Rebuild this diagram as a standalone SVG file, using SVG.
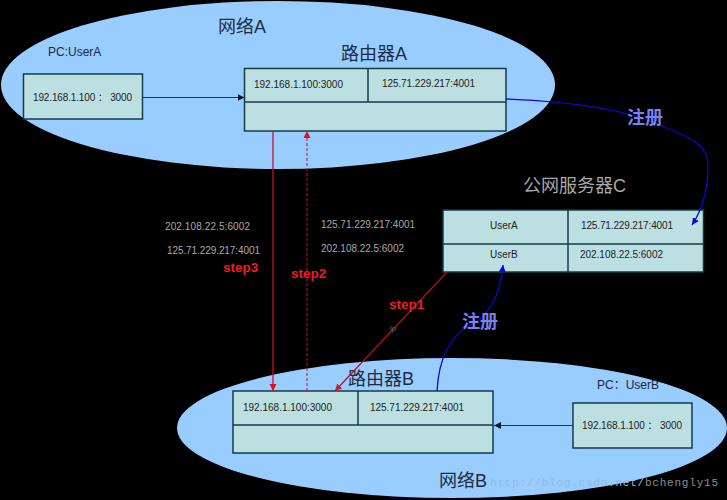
<svg xmlns="http://www.w3.org/2000/svg" width="727" height="500" viewBox="0 0 727 500">
<style>
text{font-family:"Liberation Sans","Noto Sans CJK SC",sans-serif;fill:#1a2a3a}
.cell{fill:#bce0e2;stroke:#123c4a;stroke-width:1.5}
.l{stroke:#123c4a;stroke-width:1.5;fill:none}
.net{fill:#99ccff}
.t{font-size:10px;fill:#222}
.h{font-size:18px;fill:#1c2c44}
.g{font-size:10px;fill:#a8a8a8}
.s{font-size:13.5px;font-weight:bold;fill:#f01c24}
.reg{font-size:18px;font-weight:bold;fill:#7c80f0}
</style>
<defs>
<marker id="ak" markerWidth="8" markerHeight="8" refX="7" refY="3.5" orient="auto" markerUnits="userSpaceOnUse"><path d="M0 0L7 3.5L0 7z" fill="#0a1a30"/></marker>
<marker id="ar" markerWidth="8" markerHeight="8" refX="7" refY="3.5" orient="auto" markerUnits="userSpaceOnUse"><path d="M0 0L7 3.5L0 7z" fill="#e01020"/></marker>
<marker id="ab" markerWidth="8" markerHeight="8" refX="7" refY="3.5" orient="auto" markerUnits="userSpaceOnUse"><path d="M0 0L7 3.5L0 7z" fill="#0808d0"/></marker>
</defs>
<rect width="727" height="500" fill="#000"/>
<g id="netA"><ellipse class="net" cx="278" cy="85" rx="277" ry="84"/><text class="h" x="218" y="33">网络A</text></g>
<g id="netB"><ellipse class="net" cx="452" cy="428" rx="275" ry="70"/><text class="h" x="439" y="487">网络B</text></g>
<g id="pcA"><text x="48" y="56" font-size="12">PC:UserA</text><rect class="cell" x="23.500" y="74" width="119" height="45"/><text class="t" x="33" y="101" textLength="99">192.168.1.100 ： 3000</text></g>
<g id="routerA"><text class="h" x="341" y="60">路由器A</text><rect class="cell" x="244.500" y="68.500" width="261.500" height="62.500"/><path class="l" d="M244.500 102H506M368 68.500V102"/><text class="t" x="254" y="88">192.168.1.100:3000</text><text class="t" x="382" y="87" textLength="93">125.71.229.217:4001</text></g>
<g id="serverC"><text x="523" y="192" font-size="18" style="fill:#a8a8a8">公网服务器C</text><rect class="cell" x="443" y="210" width="260.500" height="62"/><path class="l" d="M443 244H703.500M568 210V272"/><text class="t" x="490" y="229">UserA</text><text class="t" x="490" y="258">UserB</text><text class="t" x="581" y="229" textLength="92">125.71.229.217:4001</text><text class="t" x="580" y="258" textLength="83">202.108.22.5:6002</text></g>
<g id="routerB"><text class="h" x="348" y="385">路由器B</text><rect class="cell" x="233" y="391" width="260" height="62"/><path class="l" d="M233 425H493M358 391V425"/><text class="t" x="243" y="411">192.168.1.100:3000</text><text class="t" x="370" y="411" textLength="94">125.71.229.217:4001</text></g>
<g id="pcB"><text x="597" y="389" font-size="12">PC：UserB</text><rect class="cell" x="573" y="403" width="119" height="45"/><text class="t" x="582" y="429" textLength="100">192.168.1.100 ： 3000</text></g>
<g id="connectors">
<path class="l" style="stroke-width:1.200" marker-end="url(#ak)" d="M142.500 97.500H244.500"/>
<path class="l" style="stroke-width:1.200" marker-end="url(#ak)" d="M573 425.500H494"/>
<path d="M273 131V391" stroke="#c81028" stroke-width="1.300" fill="none" marker-end="url(#ar)"/>
<path d="M307 391V131" stroke="#c81028" stroke-width="1" stroke-dasharray="3 2" fill="none" marker-end="url(#ar)"/>
<path d="M447 272L335 391" stroke="#b81018" stroke-width="1.200" fill="none" marker-end="url(#ar)"/>
<path d="M506 99C560 101 620 107 660 125C690 137 708 145 708 165C708 190 702 210 692 225" stroke="#0808d0" stroke-width="1.300" fill="none" marker-end="url(#ab)"/>
<path d="M437 391C439 355 452 335 470 325C490 316 500 295 503 265" stroke="#0808d0" stroke-width="1.300" fill="none" marker-end="url(#ab)"/>
</g>
<g id="labels">
<text class="g" x="165" y="230" textLength="85">202.108.22.5:6002</text>
<text class="g" x="167" y="254" textLength="93">125.71.229.217:4001</text>
<text class="g" x="321" y="228" textLength="94">125.71.229.217:4001</text>
<text class="g" x="321" y="252" textLength="83">202.108.22.5:6002</text>
<text x="390" y="331" font-size="8" style="fill:#666">ip</text>
<text class="s" x="223" y="272">step3</text>
<text class="s" x="291" y="278">step2</text>
<text class="s" x="389" y="309">step1</text>
<text class="reg" x="627" y="124">注册</text>
<text class="reg" x="462" y="328">注册</text>
<text x="490" y="486" font-size="11" textLength="228" style="font-family:'Liberation Mono',monospace;fill:#8a8f96"><tspan style="fill:#8fbdec">http://blog.csdn.net/</tspan>bchengly15</text>
</g>
</svg>
